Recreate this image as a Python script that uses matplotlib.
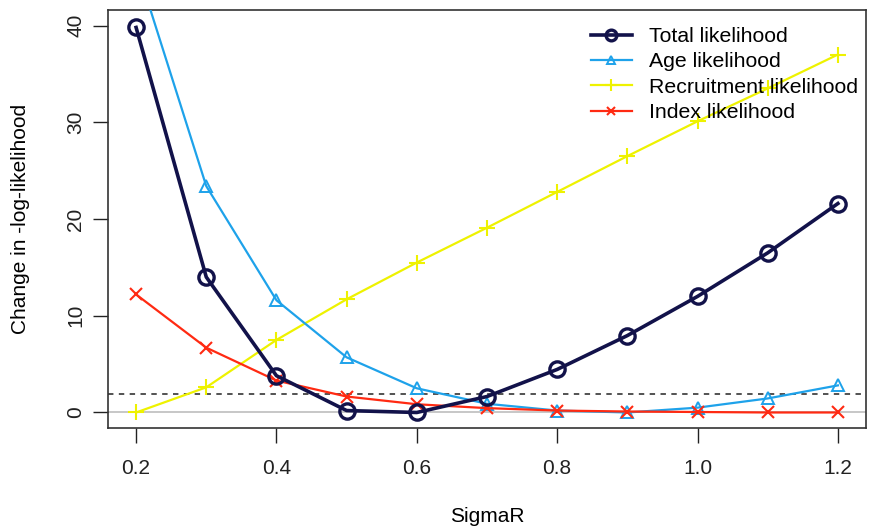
import matplotlib
matplotlib.use("Agg")
import matplotlib.pyplot as plt

plt.rcParams["font.family"] = ["Liberation Sans", "DejaVu Sans"]

sigma_r = [0.2, 0.3, 0.4, 0.5, 0.6, 0.7, 0.8, 0.9, 1.0, 1.1, 1.2]
total_lik = [39.8, 14.0, 3.8, 0.2, 0.0, 1.65, 4.45, 7.95, 12.0, 16.5, 21.6]
age_lik = [46.3, 23.4, 11.6, 5.7, 2.5, 0.9, 0.2, 0.0, 0.5, 1.45, 2.8]
recruit_lik = [0.0, 2.6, 7.5, 11.7, 15.5, 19.1, 22.8, 26.5, 30.1, 33.5, 37.0]
index_lik = [12.2, 6.7, 3.3, 1.65, 0.85, 0.45, 0.2, 0.1, 0.05, 0.0, 0.0]
chi2_cut = 1.92

fig = plt.figure(figsize=(8.69, 5.29), dpi=100)
ax = fig.add_axes([0.1243, 0.191, 0.8722, 0.79])

ax.axhline(0, color="#bdbdbd", lw=1.2, zorder=1)
ax.axhline(chi2_cut, color="#444444", lw=1.3, ls=(0, (3, 3)), zorder=1)

ax.plot(sigma_r, total_lik, color="#12124a", lw=2.6, marker="o", ms=11,
        mfc="none", mew=2.4, label="Total likelihood", zorder=4)
ax.plot(sigma_r, age_lik, color="#1ea2ea", lw=1.6, marker="^", ms=9,
        mfc="none", mew=1.4, label="Age likelihood", zorder=3)
ax.plot(sigma_r, recruit_lik, color="#eef200", lw=1.6, marker="+", ms=12,
        mew=1.5, label="Recruitment likelihood", zorder=2)
ax.plot(sigma_r, index_lik, color="#ff2a12", lw=1.6, marker="x", ms=9,
        mew=1.5, label="Index likelihood", zorder=3)

ax.set_xlim(0.16, 1.24)
ax.set_ylim(-1.6, 41.6)
ax.set_xticks([0.2, 0.4, 0.6, 0.8, 1.0, 1.2])
ax.set_xticklabels(["0.2", "0.4", "0.6", "0.8", "1.0", "1.2"])
ax.set_yticks([0, 10, 20, 30, 40])
ax.tick_params(direction="out", length=10.5, width=1, labelsize=15, colors="#222222")
ax.tick_params(axis="x", pad=12)
ax.tick_params(axis="y", pad=6)
for lab in ax.get_yticklabels():
    lab.set_rotation(90)
    lab.set_va("center")
for s in ax.spines.values():
    s.set_color("#333333")
    s.set_linewidth(1.2)

ax.set_xlabel("SigmaR", fontsize=15, labelpad=21)
ax.set_ylabel("Change in -log-likelihood", fontsize=15, labelpad=26)

ax.legend(loc="upper right", bbox_to_anchor=(1.0066, 0.99), frameon=False,
          fontsize=15.3, handlelength=1.95, labelspacing=0.3, borderaxespad=0.2,
          handletextpad=0.8, markerscale=0.7)

fig.savefig("out.png", dpi=100)
